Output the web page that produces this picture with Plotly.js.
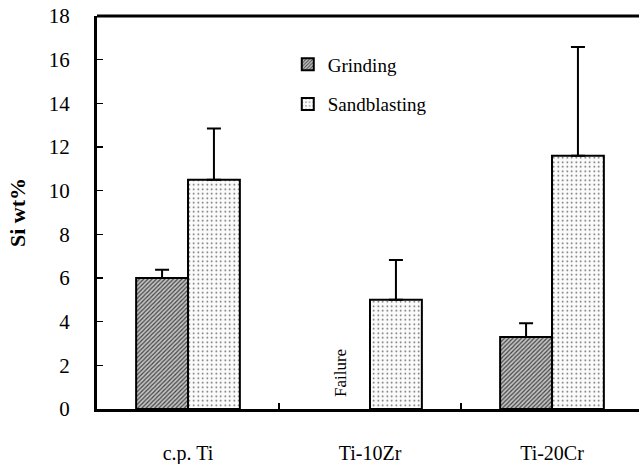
<!DOCTYPE html>
<html>
<head>
<meta charset="utf-8">
<script src="https://cdn.plot.ly/plotly-3.0.1.min.js"></script>
<style>html,body{margin:0;padding:0;background:#fff;}#chart{width:639px;height:464px;}</style>
</head>
<body>
<div id="chart"></div>
<script>
const categories = ["c.p. Ti", "Ti-10Zr", "Ti-20Cr"];
const grindingValues = [6.0, null, 3.3];
const grindingErrors = [0.38, 0, 0.63];
const sandblastingValues = [10.5, 5.0, 11.6];
const sandblastingErrors = [2.35, 1.83, 4.98];
const yTickValues = [0, 2, 4, 6, 8, 10, 12, 14, 16, 18];
const failureLabel = "Failure";

const serif = "Liberation Serif";

const traces = [
  {
    type: "bar", name: "Grinding", x: categories, y: grindingValues, legendgroup: "g1",
    marker: {
      color: "#b8b8b8",
      line: {color: "#000", width: 2},
      pattern: {shape: "/", size: 3, solidity: 0.4, fgcolor: "#444", bgcolor: "#c4c4c4", fillmode: "replace"}
    },
    error_y: {type: "data", symmetric: false, array: grindingErrors, arrayminus: [0,0,0], color: "#000", thickness: 2, width: 7}
  },
  {
    type: "bar", name: "Sandblasting", x: categories, y: sandblastingValues, legendgroup: "g2",
    marker: {
      color: "#fff",
      line: {color: "#000", width: 2},
      pattern: {shape: ".", size: 4.5, solidity: 0.1, fgcolor: "#555", bgcolor: "#fbfbfb", fillmode: "replace"}
    },
    error_y: {type: "data", symmetric: false, array: sandblastingErrors, arrayminus: [0,0,0], color: "#000", thickness: 2, width: 7}
  }
];

const layout = {
  width: 639, height: 464,
  margin: {l: 97, r: 0, t: 16, b: 55},
  paper_bgcolor: "#fff", plot_bgcolor: "#fff",
  barmode: "group", bargap: 0.43, bargroupgap: 0,
  showlegend: true,
  legend: {
    x: 0.352, y: 0.925, xanchor: "left", yanchor: "top",
    font: {family: serif, size: 19, color: "#000"},
    bgcolor: "rgba(0,0,0,0)", itemwidth: 30, traceorder: "grouped", tracegroupgap: 12
  },
  xaxis: {
    type: "category", range: [-0.5, 2.478],
    showline: true, linecolor: "#000", linewidth: 3,
    ticks: "inside", tickson: "boundaries", ticklen: 6, tickwidth: 1.5, tickcolor: "#000",
    tickfont: {family: serif, size: 20, color: "#000"},
    ticklabelstandoff: 24,
    showgrid: false, zeroline: false
  },
  yaxis: {
    range: [0, 18], tickvals: yTickValues,
    showline: true, linecolor: "#000", linewidth: 3,
    ticks: "inside", ticklen: 6, tickwidth: 1.5, tickcolor: "#000",
    tickfont: {family: serif, size: 21, color: "#000"},
    ticklabelstandoff: 20,
    showgrid: false, zeroline: false,
    title: {text: "<b>Si wt%</b>", font: {family: serif, size: 22, color: "#000"}, standoff: 18}
  },
  shapes: [
    {type: "line", xref: "paper", yref: "paper", x0: 0, x1: 1, y0: 1, y1: 1, line: {color: "#000", width: 3}}
  ],
  annotations: [
    {x: categories[1], y: 0, xref: "x", yref: "y", text: failureLabel, textangle: -90,
     showarrow: false, xshift: -30, yanchor: "bottom", yshift: 10,
     font: {family: serif, size: 17, color: "#000"}}
  ]
};

Plotly.newPlot("chart", traces, layout, {displayModeBar: false, staticPlot: true});
</script>
</body>
</html>
